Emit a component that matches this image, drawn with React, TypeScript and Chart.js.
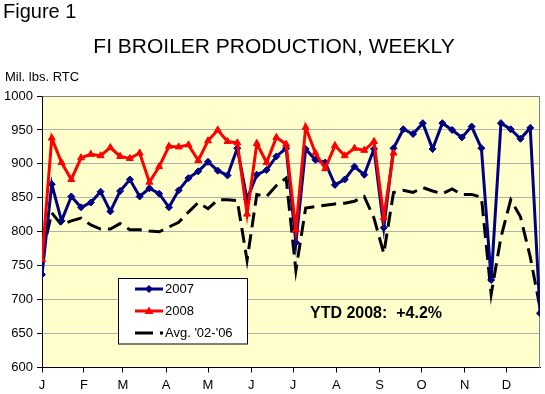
import React, { useEffect, useRef } from "react";
import { Chart, registerables } from "chart.js";

Chart.register(...registerables);

const monthLabels = ["J", "F", "M", "A", "M", "J", "J", "A", "S", "O", "N", "D"];
// week position of each month label (week 0 = first week of January)
const monthTickWeeks = [0, 4.29, 8.29, 12.71, 17, 21.43, 25.71, 30.14, 34.57, 38.86, 43.29, 47.57];

const series2007 = [
  737, 870, 816, 852, 836, 843, 859, 830, 860, 877, 852, 864, 856, 836, 861, 879, 889, 903, 890, 883,
  923, 848, 884, 891, 911, 923, 784, 922, 906, 902, 869, 877, 896, 884, 922, 806, 923, 951, 944, 960,
  922, 960, 950, 939, 955, 923, 729, 960, 951, 937, 953, 680,
];
const series2008 = [
  759, 938, 902, 877, 909, 914, 912, 924, 911, 908, 916, 873, 896, 926, 925, 928, 905, 934, 950, 933,
  931, 826, 930, 902, 939, 929, 803, 954, 916, 893, 927, 912, 923, 920, 933, 821, 916,
];
const seriesAvg = [
  765, 828, 810, 816, 820, 810, 804, 804, 812, 803, 803, 801, 800, 807, 814, 829, 843, 834, 847, 847,
  846, 758, 855, 852, 868, 879, 743, 835, 837, 839, 841, 842, 845, 852, 820, 768, 858, 861, 858, 865,
  860, 856, 863, 855, 855, 851, 708, 792, 847, 822, 763, 688,
];

const seriesNames = ["2007", "2008", "Avg. '02-'06"];
const titleText = "FI BROILER PRODUCTION, WEEKLY";
const figureText = "Figure 1";
const unitText = "Mil. lbs. RTC";
const noteText = "YTD 2008:  +4.2%";

const FONT = "'Liberation Sans', Arial, sans-serif";
const NAVY = "#000080";
const RED = "#FF0000";
const DASH = [15, 7];

const toPoints = (arr: number[]) => arr.map((v, i) => ({ x: i, y: v }));

export default function App() {
  const ref = useRef<HTMLCanvasElement | null>(null);

  useEffect(() => {
    if (!ref.current) return;

    const bgPlugin = {
      id: "bg",
      beforeDraw(chart: any) {
        const { ctx, chartArea: a } = chart;
        ctx.save();
        ctx.fillStyle = "#ffffff";
        ctx.fillRect(0, 0, chart.width, chart.height);
        ctx.fillStyle = "#FFFFCC";
        ctx.fillRect(a.left, a.top, a.right - a.left, a.bottom - a.top);
        ctx.restore();
      },
      beforeDatasetsDraw(chart: any) {
        const { ctx, chartArea: a } = chart;
        ctx.save();
        ctx.strokeStyle = "#808080";
        ctx.lineWidth = 1;
        ctx.beginPath();
        ctx.moveTo(Math.round(a.left) + 0.5, Math.round(a.top) + 0.5);
        ctx.lineTo(Math.round(a.right) - 0.5, Math.round(a.top) + 0.5);
        ctx.lineTo(Math.round(a.right) - 0.5, Math.round(a.bottom));
        ctx.stroke();
        ctx.restore();
      },
    };

    const textPlugin = {
      id: "texts",
      afterDraw(chart: any) {
        const ctx = chart.ctx;
        ctx.save();
        ctx.fillStyle = "#000";
        ctx.textBaseline = "alphabetic";
        ctx.textAlign = "left";
        ctx.font = `20px ${FONT}`;
        ctx.fillText(figureText, 3, 17.5);
        ctx.textAlign = "center";
        ctx.font = `21px ${FONT}`;
        ctx.fillText(titleText, 274, 52.5);
        ctx.textAlign = "left";
        ctx.font = `13px ${FONT}`;
        ctx.fillText(unitText, 5, 81);

        // note
        ctx.font = `bold 16px ${FONT}`;
        ctx.textAlign = "center";
        ctx.textBaseline = "middle";
        ctx.fillText(noteText, 376, 313.5);

        // legend
        const bx = 118.5, by = 278.5, bw = 129, bh = 65.5;
        ctx.fillStyle = "#fff";
        ctx.fillRect(bx, by, bw, bh);
        ctx.strokeStyle = "#000";
        ctx.lineWidth = 1;
        ctx.strokeRect(bx, by, bw, bh);
        const rows = [289, 311, 333];
        const x0 = 135, x1 = 163, xm = 149;
        // 2007
        ctx.strokeStyle = NAVY;
        ctx.lineWidth = 3;
        ctx.beginPath();
        ctx.moveTo(x0, rows[0]);
        ctx.lineTo(x1, rows[0]);
        ctx.stroke();
        ctx.fillStyle = NAVY;
        ctx.beginPath();
        ctx.moveTo(xm, rows[0] - 4);
        ctx.lineTo(xm + 4, rows[0]);
        ctx.lineTo(xm, rows[0] + 4);
        ctx.lineTo(xm - 4, rows[0]);
        ctx.closePath();
        ctx.fill();
        // 2008
        ctx.strokeStyle = RED;
        ctx.beginPath();
        ctx.moveTo(x0, rows[1]);
        ctx.lineTo(x1, rows[1]);
        ctx.stroke();
        ctx.fillStyle = RED;
        ctx.beginPath();
        ctx.moveTo(xm, rows[1] - 4.5);
        ctx.lineTo(xm + 4.5, rows[1] + 3);
        ctx.lineTo(xm - 4.5, rows[1] + 3);
        ctx.closePath();
        ctx.fill();
        // avg
        ctx.strokeStyle = "#000";
        ctx.setLineDash([18, 7]);
        ctx.beginPath();
        ctx.moveTo(x0, rows[2]);
        ctx.lineTo(x1, rows[2]);
        ctx.stroke();
        ctx.setLineDash([]);
        ctx.fillStyle = "#000";
        ctx.textAlign = "left";
        ctx.textBaseline = "middle";
        ctx.font = `13px ${FONT}`;
        seriesNames.forEach((n, i) => ctx.fillText(n, 165, rows[i]));
        ctx.restore();
      },
    };

    const chart = new Chart(ref.current, {
      type: "line",
      data: {
        datasets: [
          {
            label: seriesNames[1],
            data: toPoints(series2008),
            borderColor: RED,
            backgroundColor: RED,
            borderWidth: 3,
            pointStyle: "triangle",
            pointRadius: 4,
            pointBorderWidth: 1,
            pointBackgroundColor: RED,
            pointBorderColor: RED,
            tension: 0,
            order: 0,
          },
          {
            label: seriesNames[0],
            data: toPoints(series2007),
            borderColor: NAVY,
            backgroundColor: NAVY,
            borderWidth: 3,
            pointStyle: "rectRot",
            pointRadius: 3.5,
            pointBorderWidth: 1,
            pointBackgroundColor: NAVY,
            pointBorderColor: NAVY,
            tension: 0,
            order: 1,
          },
          {
            label: seriesNames[2],
            data: toPoints(seriesAvg),
            borderColor: "#000",
            borderWidth: 3,
            borderDash: DASH,
            borderCapStyle: "butt",
            pointRadius: 0,
            tension: 0,
            order: 2,
          },
        ],
      },
      options: {
        animation: false,
        responsive: false,
        maintainAspectRatio: false,
        events: [],
        layout: { padding: { top: 96, left: 0, right: 3, bottom: 0 } },
        plugins: {
          legend: { display: false },
          title: { display: false },
          tooltip: { enabled: false },
        },
        scales: {
          x: {
            type: "linear",
            min: 0,
            max: 51,
            afterBuildTicks: (scale: any) => {
              scale.ticks = monthTickWeeks.map((v) => ({ value: v }));
            },
            afterFit: (scale: any) => {
              scale.height = 26.5;
            },
            ticks: {
              autoSkip: false,
              maxRotation: 0,
              padding: 5,
              color: "#000",
              font: { family: FONT, size: 13 },
              callback: (_v: any, idx: number) => monthLabels[idx],
            },
            grid: {
              drawOnChartArea: false,
              drawTicks: true,
              tickLength: 5,
              tickColor: "#000",
            },
            border: { color: "#000", width: 1 },
          },
          y: {
            min: 600,
            max: 1000,
            afterFit: (scale: any) => {
              scale.width = 42;
            },
            ticks: {
              stepSize: 50,
              padding: 4,
              color: "#000",
              font: { family: FONT, size: 13 },
              callback: (v: any) => String(v),
            },
            grid: {
              color: "#B0B0B0",
              lineWidth: 1,
              drawTicks: true,
              tickLength: 5,
              tickColor: "#000",
            },
            border: { color: "#000", width: 1 },
          },
        },
      },
      plugins: [bgPlugin, textPlugin],
    } as any);

    return () => chart.destroy();
  }, []);

  return (
    <div style={{ position: "absolute", left: 0, top: 0, width: 545, height: 394, background: "#fff" }}>
      <canvas ref={ref} width={545} height={394} style={{ display: "block", width: 545, height: 394 }} />
    </div>
  );
}
